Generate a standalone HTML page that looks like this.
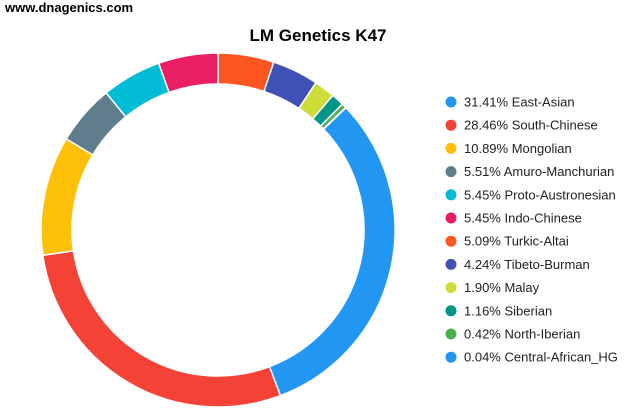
<!DOCTYPE html>
<html><head><meta charset="utf-8"><style>
body{margin:0;width:635px;height:417px;background:#fff;font-family:"Liberation Sans",sans-serif;overflow:hidden}
svg{position:absolute;left:0;top:0}
</style></head><body>
<svg width="635" height="417">
<text x="5" y="12" font-size="13" font-weight="bold" fill="#000">www.dnagenics.com</text>
<text x="318" y="41" font-size="17" font-weight="bold" text-anchor="middle" fill="#000">LM Genetics K47</text>
<g id="slices"></g>
<g id="legend"></g>
</svg>
<script>
const categories=["East-Asian","South-Chinese","Mongolian","Amuro-Manchurian","Proto-Austronesian","Indo-Chinese","Turkic-Altai","Tibeto-Burman","Malay","Siberian","North-Iberian","Central-African_HG"];
const values=[31.41,28.46,10.89,5.51,5.45,5.45,5.09,4.24,1.90,1.16,0.42,0.04];
const colors=["#2196f3","#f44336","#ffc107","#607d8b","#00bcd4","#e91e63","#ff5722","#3f51b5","#cddc39","#009688","#4caf50","#2196f3"];
const NS="http://www.w3.org/2000/svg";
const cx=218,cy=230,R=177,r=146;
const total=values.reduce((a,b)=>a+b,0);
const startDeg=46.3;
function pt(rad,deg){const a=(deg-90)*Math.PI/180;return [cx+rad*Math.cos(a),cy+rad*Math.sin(a)];}
const g=document.getElementById('slices');
let acc=startDeg;
values.forEach((v,i)=>{
  const sweep=v/total*360;const a0=acc,a1=acc+sweep;acc=a1;
  const large=sweep>180?1:0;
  const p0=pt(R,a0),p1=pt(R,a1),q1=pt(r,a1),q0=pt(r,a0);
  const p=document.createElementNS(NS,'path');
  p.setAttribute('d',`M${p0[0]},${p0[1]}A${R},${R} 0 ${large} 1 ${p1[0]},${p1[1]}L${q1[0]},${q1[1]}A${r},${r} 0 ${large} 0 ${q0[0]},${q0[1]}Z`);
  p.setAttribute('fill',colors[i]);p.setAttribute('stroke','#fff');p.setAttribute('stroke-width','1.5');
  
  
  g.appendChild(p);
});
const lg=document.getElementById('legend');
categories.forEach((c,i)=>{
  const y=102+i*23.2;
  const e=document.createElementNS(NS,'g');
  
  
  const d=document.createElementNS(NS,'circle');
  d.setAttribute('cx',451);d.setAttribute('cy',y);d.setAttribute('r',5.5);d.setAttribute('fill',colors[i]);
  const t=document.createElementNS(NS,'text');
  t.setAttribute('x',464);t.setAttribute('y',y+4.5);t.setAttribute('font-size','13');t.setAttribute('fill','#222');
  t.textContent=values[i].toFixed(2)+'% '+c;
  e.appendChild(d);e.appendChild(t);lg.appendChild(e);
});
</script>
</body></html>
